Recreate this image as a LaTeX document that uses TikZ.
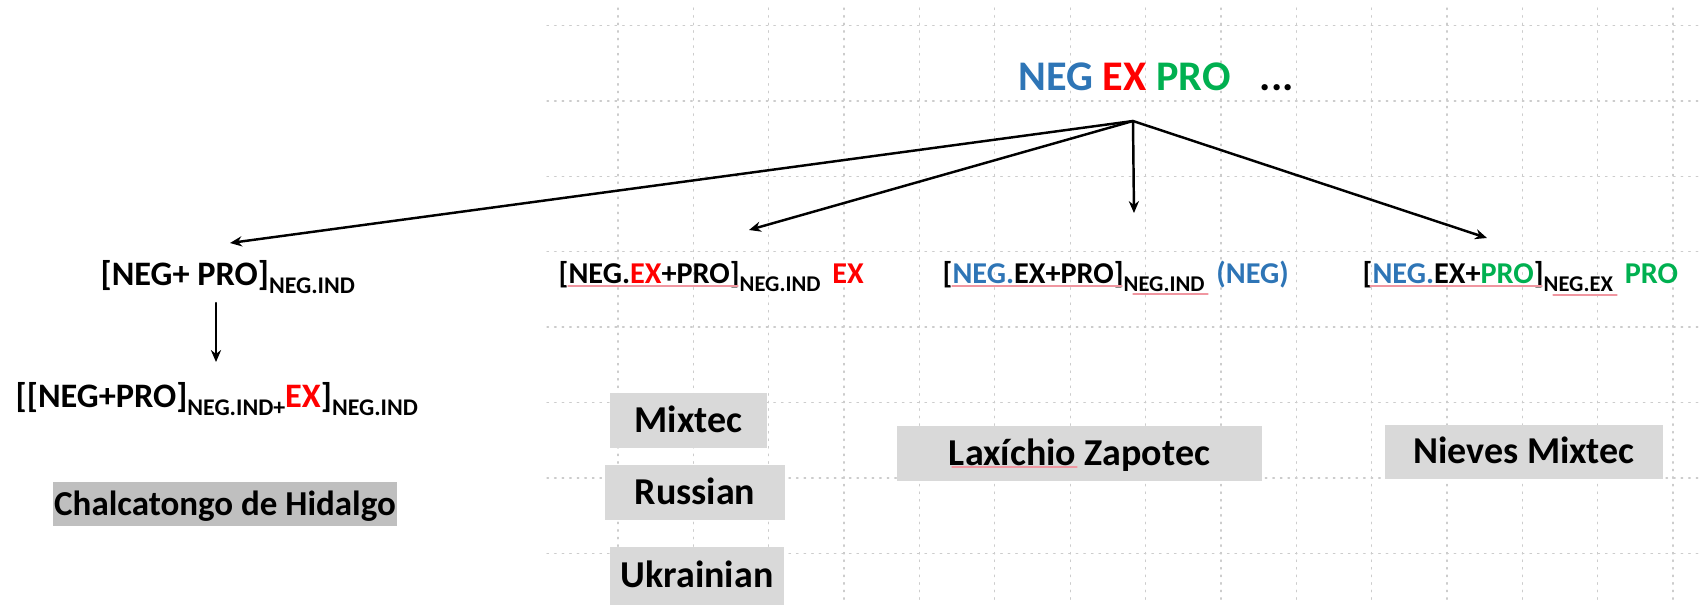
\documentclass[tikz,border=0pt]{standalone}
\usepackage{fontspec}
\setmainfont{Carlito}
\usetikzlibrary{arrows.meta}

\definecolor{negblue}{RGB}{46,117,182}
\definecolor{exred}{RGB}{255,0,0}
\definecolor{progreen}{RGB}{0,176,80}
\definecolor{langgray}{RGB}{217,217,217}
\definecolor{langdark}{RGB}{191,191,191}
\definecolor{spellpink}{RGB}{240,150,160}

% lowered small text for the index labels
\newcommand{\subtxt}[2][6.8]{\raisebox{-2.4pt}{\fontsize{#1}{#1}\selectfont #2}}

\tikzset{
  lbl/.style={anchor=base west, inner sep=0pt, font=\bfseries\fontsize{9.76}{11}\selectfont},
  rowlbl/.style={lbl, font=\bfseries\fontsize{8.6}{10}\selectfont},
  lang/.style={fill=langgray, inner sep=0pt, text height=6.8pt, text depth=0pt,
    font=\bfseries\fontsize{10.8}{12}\selectfont},
  gridline/.style={black!20, line width=0.35pt, dash pattern=on 0.45pt off 1.7pt},
  spellmark/.style={spellpink, line width=0.3pt},
  link/.style={->, line width=0.7pt},
}

\begin{document}
\begin{tikzpicture}[x=0.01cm, y=-0.01cm, >={Stealth[length=3.4pt,width=2.9pt]}, line cap=round, line join=round]
  % Page window
  \useasboundingbox (0,0) rectangle (1702,605);

  % Dotted background grid (right part only)
  \foreach \gx in {0,...,14}
    \draw[gridline] ({618+75.36*\gx},8) -- ({618+75.36*\gx},605);
  \foreach \gy in {0,...,7}
    \draw[gridline] (547,{25.5+75.4*\gy}) -- (1702,{25.5+75.4*\gy});

  % Source of the branches
  \node[lbl, font=\bfseries\fontsize{12}{13}\selectfont] (top) at (1018,90)
    {\textcolor{negblue}{NEG} \textcolor{exred}{EX} \textcolor{progreen}{PRO}\hspace{8.3pt}...};
  \coordinate (apex) at (1133,121);

  % Outcomes
  \node[lbl] (negpro) at (100,285) {[NEG+ PRO]\subtxt{NEG.IND}};
  \node[lbl] (negpro2) at (15,407)
    {[[NEG+PRO]\subtxt{NEG.IND+}\textcolor{exred}{EX}]\subtxt{NEG.IND}};
  \node[rowlbl] (exrow) at (558,283)
    {[NEG.\textcolor{exred}{EX}+PRO]\subtxt[6.4]{NEG.IND}\hspace{3.4pt}\textcolor{exred}{EX}};
  \node[rowlbl] (negrow) at (942,283)
    {[\textcolor{negblue}{NEG.}EX+PRO]\subtxt[6.4]{NEG.IND}\hspace{3.4pt}\textcolor{negblue}{(NEG)}};
  \node[rowlbl] (prorow) at (1362,283)
    {[\textcolor{negblue}{NEG.}EX+\textcolor{progreen}{PRO}]\subtxt[6.4]{NEG.EX}\hspace{3.4pt}\textcolor{progreen}{PRO}};

  % Arrow ends
  \coordinate (t1) at (230,243);
  \coordinate (t2) at (749,230);
  \coordinate (t3) at (1134,213);
  \coordinate (t4) at (1487,238);
  \coordinate (d1) at (216,303);
  \coordinate (d2) at (216,362);

  % Branches
  \draw[link] (apex) -- (t1);
  \draw[link] (apex) -- (t2);
  \draw[link] (apex) -- (t3);
  \draw[link] (apex) -- (t4);
  \draw[link] (d1) -- (d2);

  % Languages
  \node[lang, fill=langdark, font=\bfseries\fontsize{9.95}{11}\selectfont, text height=6.3pt,
    minimum width=3.44cm, minimum height=0.44cm] (chalca) at (225,504) {Chalcatongo de Hidalgo};
  \node[lang, minimum width=1.57cm, minimum height=0.55cm] (mixtec) at (688.5,420.5) {Mixtec};
  \node[lang, minimum width=1.80cm, minimum height=0.55cm] (russian) at (695,492.5) {Russian};
  \node[lang, minimum width=1.74cm, minimum height=0.58cm] (ukrainian) at (697,576) {Ukrainian};
  \node[lang, minimum width=3.65cm, minimum height=0.55cm] (zapotec) at (1079.5,453.5) {Laxíchio Zapotec};
  \node[lang, minimum width=2.78cm, minimum height=0.54cm] (nieves) at (1524,452) {Nieves Mixtec};

  % Spell-check marks under some words
  \draw[spellmark] (568,286) -- (738,286);
  \draw[spellmark] (952,286) -- (1122,286);
  \draw[spellmark] (1133,294) -- (1208,294);
  \draw[spellmark] (1370,286) -- (1542,286);
  \draw[spellmark] (1553,295) -- (1617,295);
  \draw[spellmark] (952,467) -- (1077,467);
\end{tikzpicture}
\end{document}
